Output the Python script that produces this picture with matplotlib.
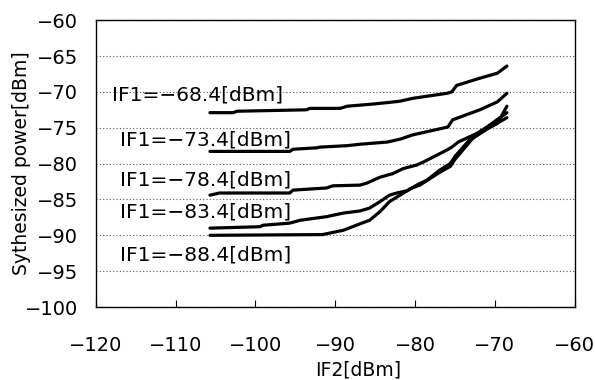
import matplotlib
matplotlib.use("Agg")
import matplotlib.pyplot as plt

plt.rcParams['font.family'] = ['DejaVu Sans']

# curves, one per IF1 level
x_684 = [-105.7, -102.8, -102.3, -93.6, -93.2, -89.4, -88.5, -85.3, -83.5, -81.9,
         -80.3, -76.0, -75.4, -74.8, -71.9, -69.7, -68.5]
y_684 = [-72.9, -72.9, -72.7, -72.5, -72.3, -72.3, -72.0, -71.7, -71.5, -71.3,
         -70.9, -70.2, -70.0, -69.1, -68.1, -67.4, -66.4]

x_734 = [-105.7, -95.7, -95.3, -92.3, -91.9, -88.5, -86.9, -83.5, -81.9, -80.3,
         -75.9, -75.3, -71.9, -69.7, -68.5]
y_734 = [-78.3, -78.3, -78.0, -77.8, -77.7, -77.5, -77.3, -77.0, -76.6, -76.0,
         -74.9, -73.9, -72.5, -71.4, -70.2]

x_784 = [-105.7, -104.5, -95.7, -95.3, -91.1, -90.3, -86.9, -86.0, -84.4, -82.8,
         -81.5, -79.8, -79.0, -76.0, -75.4, -74.6, -71.9, -69.7, -68.5]
y_784 = [-84.4, -84.1, -84.1, -83.7, -83.4, -83.1, -83.0, -82.7, -81.9, -81.4,
         -80.7, -80.2, -79.8, -78.1, -77.7, -77.0, -75.6, -74.4, -72.0]

x_834 = [-105.7, -99.4, -99.1, -95.7, -94.4, -91.1, -89.0, -86.9, -85.7, -84.4,
         -83.2, -82.3, -81.0, -79.8, -78.5, -76.9, -75.6, -75.0, -72.8, -71.0, -68.5]
y_834 = [-89.0, -88.8, -88.6, -88.3, -87.9, -87.4, -86.9, -86.6, -86.2, -85.3,
         -84.4, -84.1, -83.8, -83.0, -82.3, -80.9, -80.0, -79.0, -76.2, -74.9, -72.9]

x_884 = [-105.7, -91.6, -89.0, -86.9, -85.7, -84.4, -83.2, -81.9, -80.6, -79.4,
         -76.9, -75.6, -75.0, -72.8, -71.0, -68.5]
y_884 = [-90.0, -89.9, -89.3, -88.4, -87.9, -86.7, -85.3, -84.4, -83.5, -83.0,
         -81.2, -80.4, -79.4, -76.5, -75.2, -73.6]

labels = ["IF1=\u221268.4[dBm]", "IF1=\u221273.4[dBm]", "IF1=\u221278.4[dBm]",
          "IF1=\u221283.4[dBm]", "IF1=\u221288.4[dBm]"]
label_x = [-118.0, -117.0, -117.0, -117.0, -117.0]
label_y = [-70.4, -76.7, -82.3, -86.7, -92.7]

fig = plt.figure(figsize=(5.95, 3.8), dpi=100)
ax = fig.add_axes([0.161, 0.192, 0.805, 0.755])

curves = [(x_684, y_684), (x_734, y_734), (x_784, y_784), (x_834, y_834), (x_884, y_884)]
for xs, ys in curves:
    ax.plot(xs, ys, color='black', linewidth=2.3, solid_capstyle='round')

for txt, lx, ly in zip(labels, label_x, label_y):
    ax.text(lx, ly, txt, fontsize=14.5, va='center', ha='left')

ax.set_xlim(-120, -60)
ax.set_ylim(-100, -60)
ax.set_xticks(range(-120, -59, 10))
ax.set_yticks(range(-100, -59, 5))
ax.yaxis.grid(True, linestyle=(0, (1, 2)), color='#555555', linewidth=0.8)
ax.tick_params(axis='x', direction='in', length=5, pad=21, labelsize=14)
ax.tick_params(axis='y', length=0, pad=13, labelsize=14)
for s in ax.spines.values():
    s.set_linewidth(1.0)

ax.set_ylabel("Sythesized power[dBm]", fontsize=13.5)
ax.yaxis.set_label_coords(-0.135, 0.5)
ax.set_xlabel("IF2[dBm]", fontsize=13.5)
ax.xaxis.set_label_coords(0.547, -0.185)

fig.savefig("out.png", dpi=100)
